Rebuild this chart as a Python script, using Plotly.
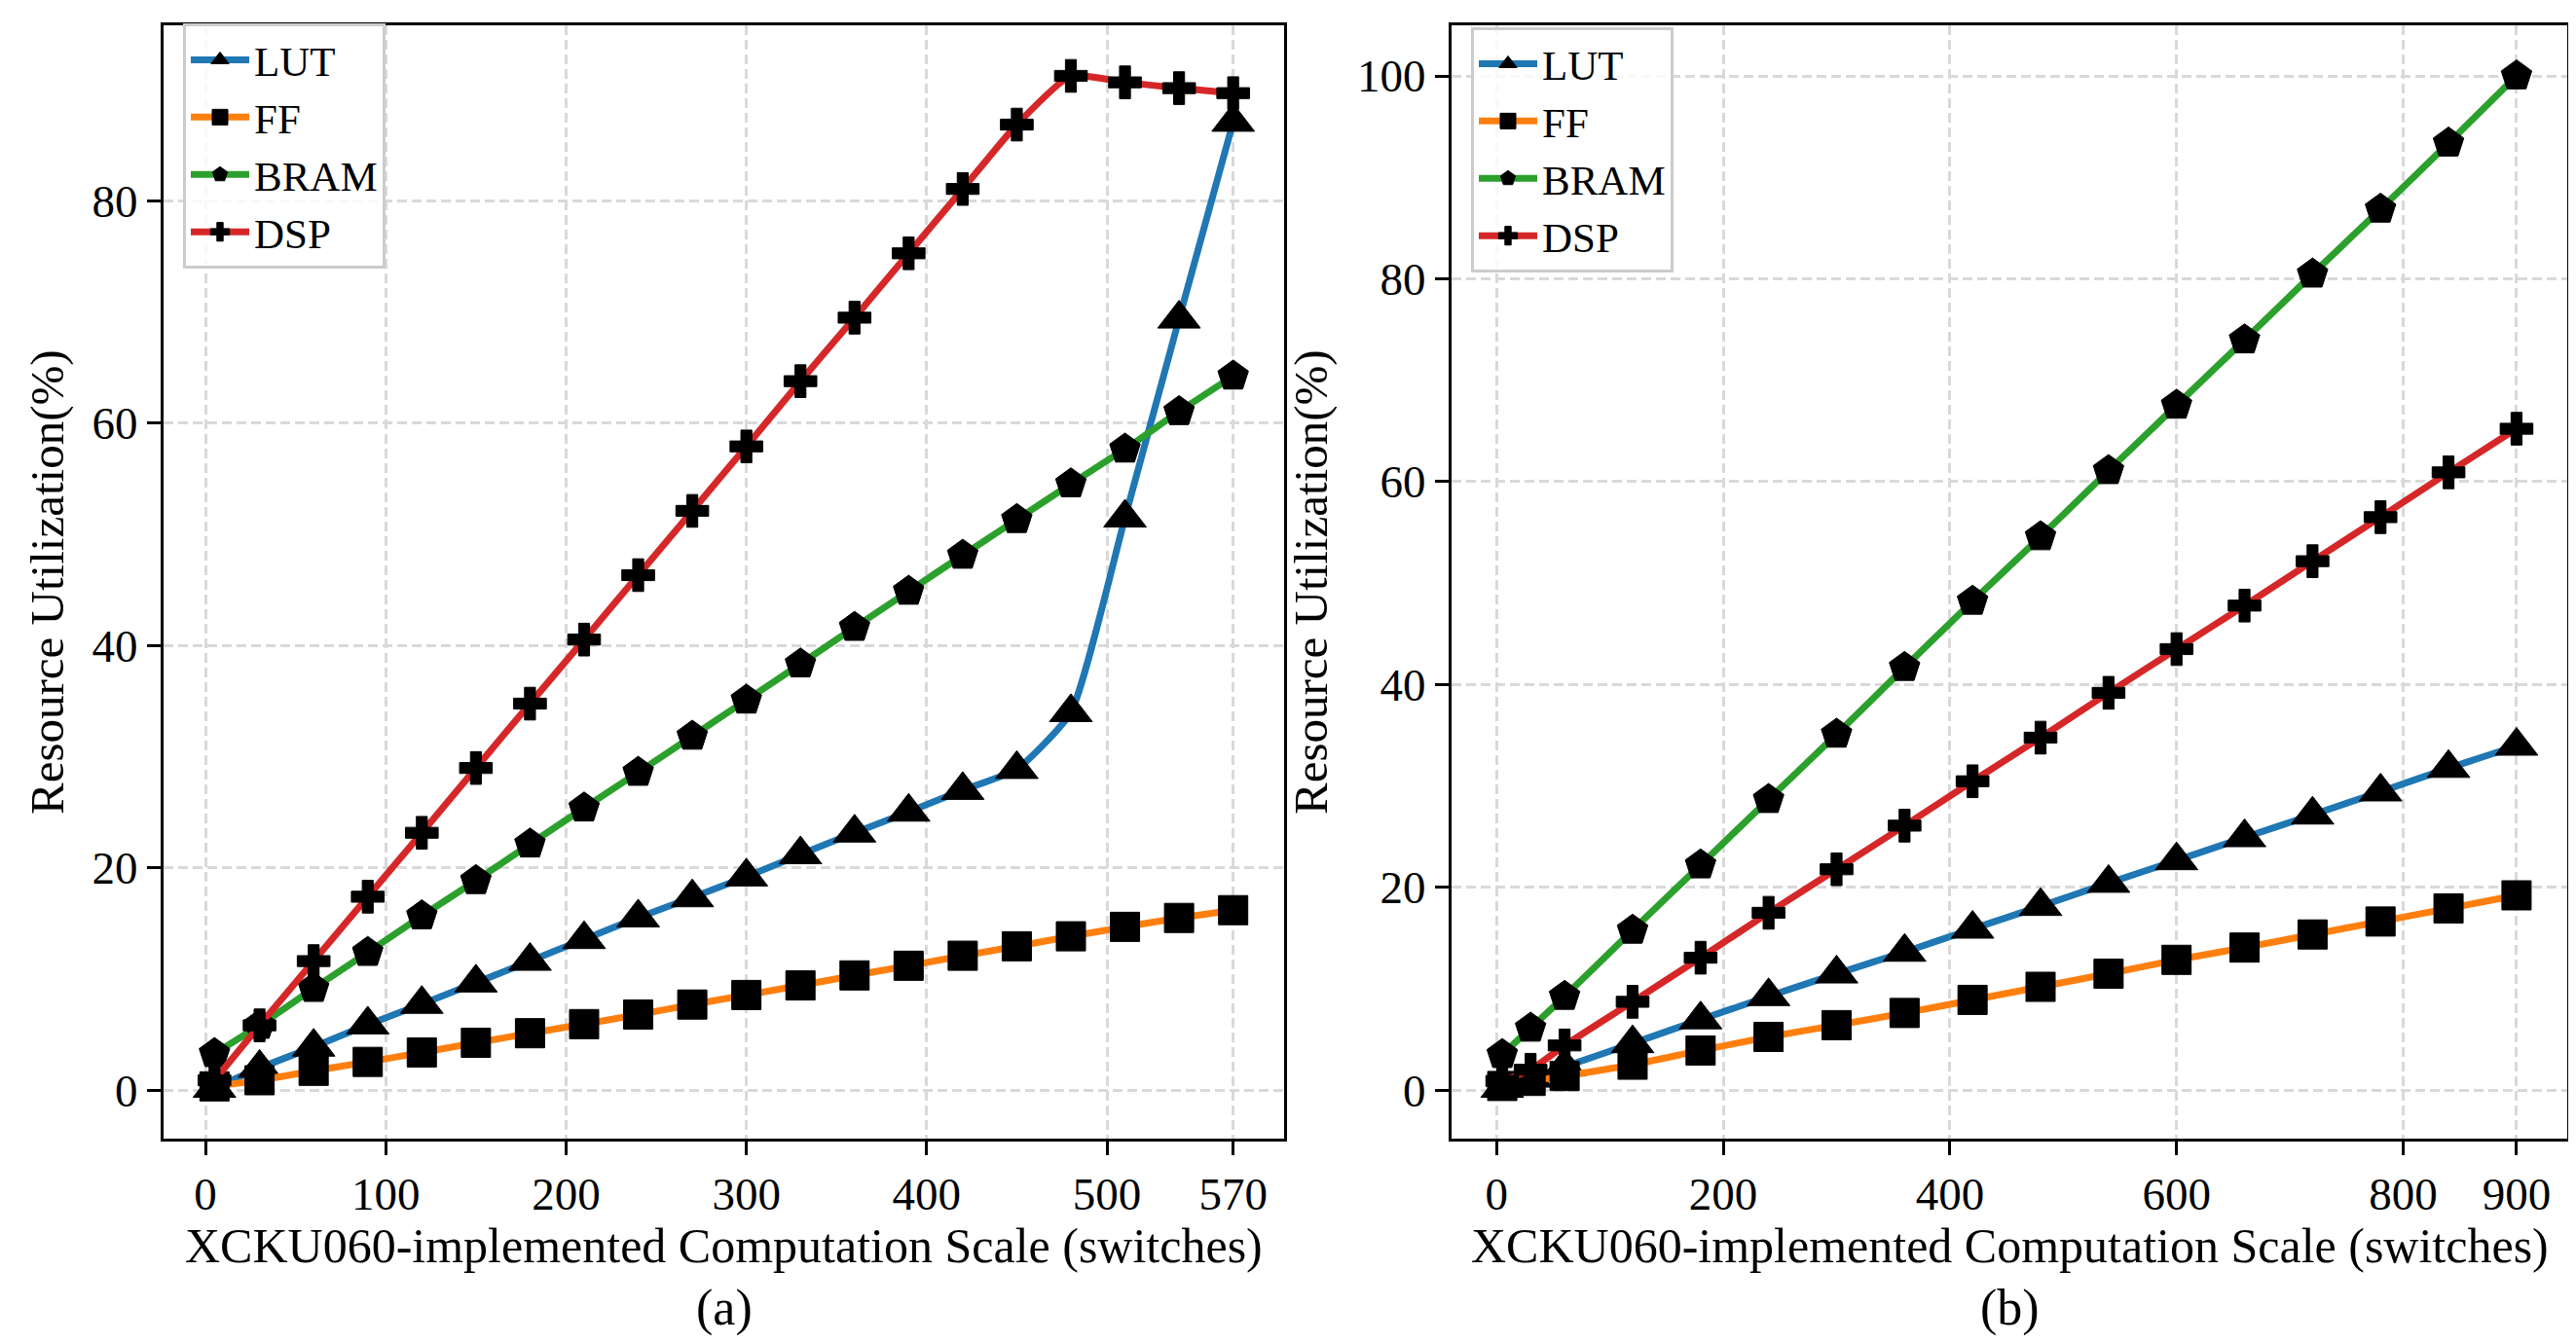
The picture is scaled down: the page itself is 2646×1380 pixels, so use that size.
import plotly.graph_objects as go

# switches
x_a = [5, 30, 60, 90, 120, 150, 180, 210, 240, 270, 300, 330, 360, 390, 420, 450, 480, 510, 540, 570]
lut_a = [0.2, 2.0, 3.9, 5.9, 7.75, 9.67, 11.62, 13.58, 15.53, 17.34, 19.21, 21.21, 23.16, 25.04, 27.0, 28.88, 34.0, 51.5, 69.4, 87.1]
ff_a = [0.35, 0.9, 1.75, 2.55, 3.4, 4.27, 5.13, 5.95, 6.81, 7.71, 8.57, 9.43, 10.33, 11.2, 12.1, 12.95, 13.85, 14.7, 15.5, 16.2]
bram_a = [3.3, 5.84, 9.16, 12.4, 15.69, 18.86, 22.15, 25.39, 28.6, 31.85, 35.1, 38.35, 41.64, 44.89, 48.13, 51.34, 54.55, 57.68, 61.05, 64.25]
dsp_a = [0.9, 5.84, 11.62, 17.41, 23.16, 28.99, 34.78, 40.54, 46.34, 52.12, 57.92, 63.79, 69.5, 75.29, 81.08, 86.87, 91.25, 90.67, 90.15, 89.7]

x_b = [5, 30, 60, 120, 180, 240, 300, 360, 420, 480, 540, 600, 660, 720, 780, 840, 900]
lut_b = [0.2, 1.2, 2.3, 4.6, 6.95, 9.24, 11.47, 13.61, 15.89, 18.13, 20.41, 22.64, 24.91, 27.14, 29.42, 31.74, 33.93]
ff_b = [0.4, 0.9, 1.38, 2.5, 3.9, 5.24, 6.4, 7.6, 8.89, 10.18, 11.47, 12.84, 14.05, 15.34, 16.62, 17.91, 19.2]
bram_b = [3.5, 6.1, 9.24, 15.76, 22.2, 28.65, 35.09, 41.67, 48.2, 54.56, 61.08, 67.53, 73.97, 80.46, 86.86, 93.38, 100.0]
dsp_b = [0.9, 2.0, 4.4, 8.7, 13.05, 17.48, 21.77, 26.07, 30.45, 34.75, 39.17, 43.48, 47.77, 52.15, 56.49, 60.91, 65.21]

names = ['LUT', 'FF', 'BRAM', 'DSP']
colors = ['#1f77b4', '#ff7f0e', '#2ca02c', '#d62728']
symbols = ['triangle-up', 'square', 'pentagon', 'cross']
sizes = [38, 30, 33, 28]
xticks_a = [0, 100, 200, 300, 400, 500, 570]
xticks_b = [0, 200, 400, 600, 800, 900]
yticks_a = [0, 20, 40, 60, 80]
yticks_b = [0, 20, 40, 60, 80, 100]

FONT = 'Times New Roman, Liberation Serif, serif'


def pad(vals, frac=0.05):
    lo, hi = min(vals), max(vals)
    d = (hi - lo) * frac
    return [lo - d, hi + d]


fig = go.Figure()
panels = [
    (x_a, [lut_a, ff_a, bram_a, dsp_a], 'x', 'y', 'legend'),
    (x_b, [lut_b, ff_b, bram_b, dsp_b], 'x2', 'y2', 'legend2'),
]
for xs, series, xa, ya, leg in panels:
    for i in range(4):
        fig.add_trace(go.Scatter(
            x=xs, y=series[i], name=names[i], mode='lines+markers',
            xaxis=xa, yaxis=ya, legend=leg,
            line=dict(color=colors[i], width=7, shape='spline', smoothing=0.5),
            marker=dict(symbol=symbols[i], size=sizes[i], color='black',
                        line=dict(color='black', width=1))))

W, H = 2646, 1380
ax_common = dict(showline=True, linecolor='black', linewidth=3, mirror=True,
                 ticks='outside', ticklen=14, tickwidth=3, tickcolor='black',
                 showgrid=True, gridcolor='#d9d9d9', gridwidth=2.5, griddash='10px,5px',
                 zeroline=False, tickfont=dict(family=FONT, size=47, color='black'))

all_a = lut_a + ff_a + bram_a + dsp_a
all_b = lut_b + ff_b + bram_b + dsp_b

leg_common = dict(xanchor='left', yanchor='top', bgcolor='rgba(255,255,255,0.8)',
                  bordercolor='#cccccc', borderwidth=3, itemwidth=60,
                  font=dict(family=FONT, size=43, color='black'))

fig.update_layout(
    width=W, height=H,
    margin=dict(l=0, r=0, t=0, b=0),
    paper_bgcolor='white', plot_bgcolor='white',
    font=dict(family=FONT, color='black'),
    xaxis=dict(domain=[160 / W, 1311 / W], range=pad(x_a), tickmode='array', tickvals=xticks_a,
               anchor='y', **ax_common),
    yaxis=dict(domain=[(H - 1162) / H, (H - 18) / H], range=pad(all_a), tickmode='array',
               tickvals=yticks_a, anchor='x', **ax_common),
    xaxis2=dict(domain=[1483 / W, 2629 / W], range=pad(x_b), tickmode='array', tickvals=xticks_b,
                anchor='y2', **ax_common),
    yaxis2=dict(domain=[(H - 1162) / H, (H - 18) / H], range=pad(all_b), tickmode='array',
                tickvals=yticks_b, anchor='x2', **ax_common),
    legend=dict(x=180 / W, y=(H - 16) / H, **leg_common),
    legend2=dict(x=1503 / W, y=(H - 20) / H, **leg_common),
)

xlabel = 'XCKU060-implemented Computation Scale (switches)'
ylabel = 'Resource Utilization(%)'
for cx, ylx, tag in [(735.5, 40, '(a)'), (2056, 1338, '(b)')]:
    fig.add_annotation(x=cx / W, y=(H - 1272) / H, xref='paper', yref='paper', text=xlabel,
                       xanchor='center', yanchor='middle',
                       showarrow=False, font=dict(family=FONT, size=50, color='black'))
    fig.add_annotation(x=cx / W, y=(H - 1336) / H, xref='paper', yref='paper', text=tag,
                       xanchor='center', yanchor='middle',
                       showarrow=False, font=dict(family=FONT, size=52, color='black'))
    fig.add_annotation(x=ylx / W, y=(H - 590) / H, xref='paper', yref='paper', text=ylabel,
                       xanchor='center', yanchor='middle',
                       textangle=-90, showarrow=False, font=dict(family=FONT, size=49, color='black'))

fig.write_html("out.html")
